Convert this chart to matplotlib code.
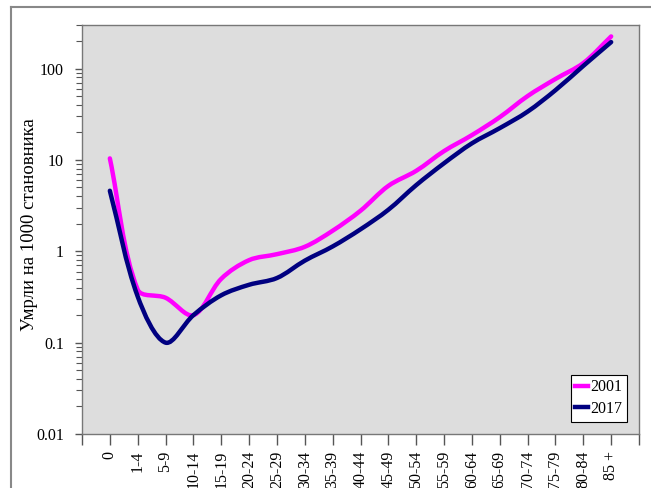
import matplotlib
matplotlib.use("Agg")
import matplotlib.pyplot as plt
import numpy as np
from matplotlib.path import Path
from matplotlib.patches import PathPatch
from matplotlib.lines import Line2D
from matplotlib.ticker import LogLocator, NullFormatter, FixedLocator

plt.rcParams['font.family'] = ['Liberation Serif', 'DejaVu Serif']

age_groups = ["0", "1-4", "5-9", "10-14", "15-19", "20-24", "25-29", "30-34",
              "35-39", "40-44", "45-49", "50-54", "55-59", "60-64", "65-69",
              "70-74", "75-79", "80-84", "85 +"]
deaths_2001 = [10.4, 0.38, 0.31, 0.20, 0.50, 0.80, 0.93, 1.12, 1.68, 2.78,
               5.2, 7.6, 12.5, 18.7, 29.4, 50, 77, 115, 225]
deaths_2017 = [4.6, 0.32, 0.10, 0.20, 0.33, 0.43, 0.51, 0.79, 1.13, 1.74,
               2.85, 5.3, 9.2, 15.2, 22.3, 33.8, 58, 107, 195]

color_2001 = "#FF00FF"
color_2017 = "#000080"


def smooth_path(ax, values):
    # excel-like smoothed line: bezier segments built in screen space
    x = np.arange(len(values), dtype=float)
    pts = ax.transData.transform(np.column_stack([x, values]))
    n = len(pts)
    verts = [pts[0]]
    codes = [Path.MOVETO]
    for i in range(n - 1):
        p0 = pts[i - 1] if i > 0 else pts[i]
        p1, p2 = pts[i], pts[i + 1]
        p3 = pts[i + 2] if i + 2 < n else pts[i + 1]
        d01 = np.hypot(*(p1 - p0))
        d12 = np.hypot(*(p2 - p1))
        d23 = np.hypot(*(p3 - p2))
        c1 = p1 + (p2 - p0) * (d12 / (d01 + d12)) / 3.0
        c2 = p2 - (p3 - p1) * (d12 / (d12 + d23)) / 3.0
        verts += [c1, c2, p2]
        codes += [Path.CURVE4] * 3
    verts = ax.transData.inverted().transform(np.array(verts))
    return Path(verts, codes)


fig = plt.figure(figsize=(6.51, 4.88), dpi=100)
ax = fig.add_axes([82 / 651, 1 - 434 / 488, (639 - 82) / 651, (434 - 25) / 488])
ax.set_facecolor("#DDDDDD")
ax.set_yscale("log")
ax.set_xlim(-1, 19)
ax.set_ylim(0.01, 300)

for vals, col in [(deaths_2001, color_2001), (deaths_2017, color_2017)]:
    patch = PathPatch(smooth_path(ax, vals), facecolor="none", edgecolor=col,
                      lw=3.2, capstyle="round", joinstyle="round")
    ax.add_patch(patch)

ax.xaxis.set_major_locator(FixedLocator(list(range(-1, 20))))
ax.set_xticklabels([""] + age_groups + [""], rotation=90, fontsize=11.5)
ax.tick_params(axis="x", length=8, width=1, color="#555555", pad=4)

ax.yaxis.set_minor_locator(LogLocator(base=10, subs=np.arange(2, 10), numticks=20))
ax.yaxis.set_minor_formatter(NullFormatter())
ax.set_yticks([0.01, 0.1, 1, 10, 100])
ax.set_yticklabels(["0.01", "0.1", "1", "10", "100"], fontsize=11.5)
ax.tick_params(axis="y", which="major", length=5, width=1, color="#555555", pad=8)
ax.tick_params(axis="y", which="minor", length=4, width=0.8, color="#555555")

for s in ax.spines.values():
    s.set_color("#777777")
    s.set_linewidth(1.0)

ax.set_ylabel("Умрли на 1000 становника", fontsize=13.5)
ax.yaxis.set_label_coords(-0.079, 0.513)

handles = [Line2D([], [], color=color_2001, lw=3.2),
           Line2D([], [], color=color_2017, lw=3.2)]
leg = ax.legend(handles, ["2001", "2017"], loc="lower right",
                bbox_to_anchor=(0.979, 0.03), borderaxespad=0,
                fontsize=11.5, handlelength=0.8, handletextpad=0.15,
                labelspacing=0.35, borderpad=0.3, fancybox=False,
                framealpha=1, edgecolor="black")
leg.get_frame().set_linewidth(0.8)

# outer border of the chart area
fig.add_artist(Line2D([11 / 651, 11 / 651], [0, 1 - 7 / 488],
                      transform=fig.transFigure, color="#888888", lw=1.5))
fig.add_artist(Line2D([11 / 651, 1], [1 - 7 / 488, 1 - 7 / 488],
                      transform=fig.transFigure, color="#888888", lw=1.5))

fig.savefig("out.png", dpi=100)
